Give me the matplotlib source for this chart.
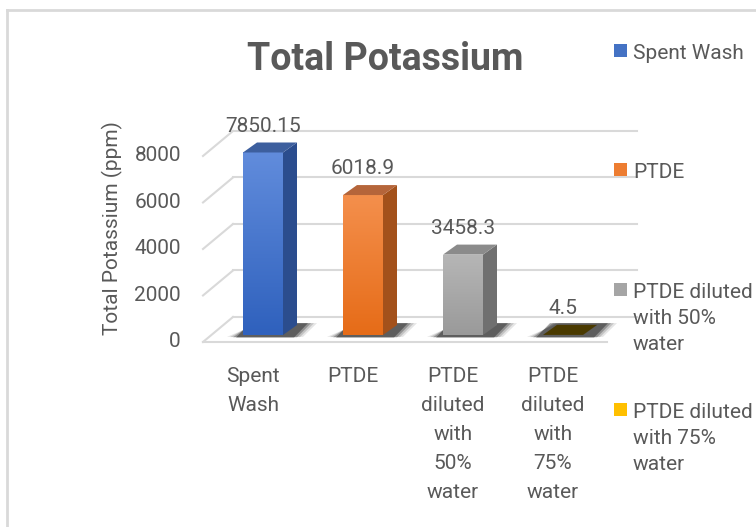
import matplotlib
matplotlib.use('Agg')
import matplotlib.pyplot as plt
from matplotlib.patches import Polygon, Rectangle
from matplotlib.lines import Line2D
from matplotlib.colors import to_rgb
import numpy as np

plt.rcParams['font.family'] = ['Roboto', 'DejaVu Sans']

# data
categories = ['Spent\nWash', 'PTDE', 'PTDE\ndiluted\nwith\n50%\nwater', 'PTDE\ndiluted\nwith\n75%\nwater']
legend_labels = ['Spent Wash', 'PTDE', 'PTDE diluted\nwith 50%\nwater', 'PTDE diluted\nwith 75%\nwater']
values = [7850.15, 6018.9, 3458.3, 4.5]
value_labels = ['7850.15', '6018.9', '3458.3', '4.5']
yticks = [0, 2000, 4000, 6000, 8000]

# colours
front_top = ['#618cdc', '#f48f4c', '#b6b6b6', '#ffd040']
front_bot = ['#2f61bd', '#e66c18', '#9a9a9a', '#e8a800']
side_col = ['#2b4d8e', '#a3511b', '#707070', '#3a2d00']
top_col = ['#3d5f9e', '#b5653a', '#8b8b8b', '#4a3a00']
legend_col = ['#4472c4', '#ed7d31', '#a5a5a5', '#ffc000']
TXT = '#595959'
GRID = '#d9d9d9'

W, H = 756, 527
fig = plt.figure(figsize=(W / 100, H / 100), dpi=100)
ax = fig.add_axes([0, 0, 1, 1])
ax.axis('off')

# pseudo-3D geometry (data units)
floor_front = -300
dep_x, dep_v = 0.30, 1075
x_left, x_right = -0.60, 3.44
bw = 0.4
bdx, bdv = 0.14, 430

# side wall and back wall gridlines
for t in yticks:
    yf = t + floor_front
    yb = yf + dep_v
    ax.plot([x_left, x_left + dep_x], [yf, yb], color=GRID, lw=1.5, zorder=1)
    ax.plot([x_left + dep_x, x_right + dep_x], [yb, yb], color=GRID, lw=1.5, zorder=1)
    ax.text(-0.82, yf, f'{t}', ha='right', va='center', fontsize=15, color=TXT)
# floor front edge
ax.plot([x_left, x_right], [floor_front, floor_front], color=GRID, lw=1.5, zorder=1)

x = np.arange(len(values))
bars = ax.bar(x, values, width=bw, color=front_bot, zorder=4)

for i, (b, v) in enumerate(zip(bars, values)):
    x0 = x[i] - bw / 2
    x1 = x[i] + bw / 2
    # soft shadow on the floor
    for k, a in enumerate([0.10, 0.15, 0.25, 0.35]):
        g = 0.10 - k * 0.03
        ax.add_patch(Polygon([(x0 - g - 0.06, -80 - k * 10), (x1 + g + 0.1, -80 - k * 10),
                              (x1 + g + 0.24, bdv + 80), (x0 + g + 0.06, bdv + 80)],
                             closed=True, color='black', alpha=a, lw=0, zorder=2))
    # front face gradient
    c_top = np.array(to_rgb(front_top[i]))
    c_bot = np.array(to_rgb(front_bot[i]))
    tt = np.linspace(0, 1, 64)[:, None]
    grad = (c_top * (1 - tt) + c_bot * tt)[:, None, :].repeat(2, axis=1)
    im = ax.imshow(grad, extent=[x0, x1, 0, v], aspect='auto', zorder=4,
                   interpolation='bilinear')
    im.set_clip_path(b)
    # side face
    ax.add_patch(Polygon([(x1, 0), (x1 + bdx, bdv), (x1 + bdx, v + bdv), (x1, v)],
                         closed=True, color=side_col[i], lw=0, zorder=4))
    # top face
    ax.add_patch(Polygon([(x0, v), (x1, v), (x1 + bdx, v + bdv), (x0 + bdx, v + bdv)],
                         closed=True, color=top_col[i], lw=0, zorder=5))
    # value label
    ax.annotate(value_labels[i], (x[i], v), xytext=(0, 19), textcoords='offset points',
                ha='center', va='center', fontsize=15, color=TXT, zorder=6)
    # category label
    ax.text(x[i] - 0.1, floor_front - 1080, categories[i], ha='center', va='top',
            fontsize=15, color=TXT, linespacing=1.67)

ax.set_xlim(-2.63, 4.93)
ax.set_ylim(-8258, 14409)

# title and y label
fig.text(385 / W, 1 - 70 / H, 'Total Potassium', ha='center', va='baseline',
         fontsize=27, fontweight='bold', color=TXT)
fig.text(112 / W, 1 - 228 / H, 'Total Potassium (ppm)', ha='center', va='center',
         rotation=90, fontsize=15, color=TXT)

# legend
leg_y = [51, 170, 290, 410]
for lbl, col, yy in zip(legend_labels, legend_col, leg_y):
    fig.patches.append(Rectangle((614 / W, 1 - (yy + 6) / H), 13 / W, 13 / H,
                                 transform=fig.transFigure, color=col, lw=0))
    fig.text(633 / W, 1 - (yy - 7) / H, lbl, ha='left', va='top',
             fontsize=15, color=TXT, linespacing=1.48)

# chart area border
fig.add_artist(Line2D([7 / W, 7 / W], [0, 1 - 10 / H], transform=fig.transFigure,
                      color=GRID, lw=2))
fig.add_artist(Line2D([7 / W, 1], [1 - 10 / H, 1 - 10 / H], transform=fig.transFigure,
                      color=GRID, lw=2))

fig.savefig('out.png', dpi=100, facecolor='white')
